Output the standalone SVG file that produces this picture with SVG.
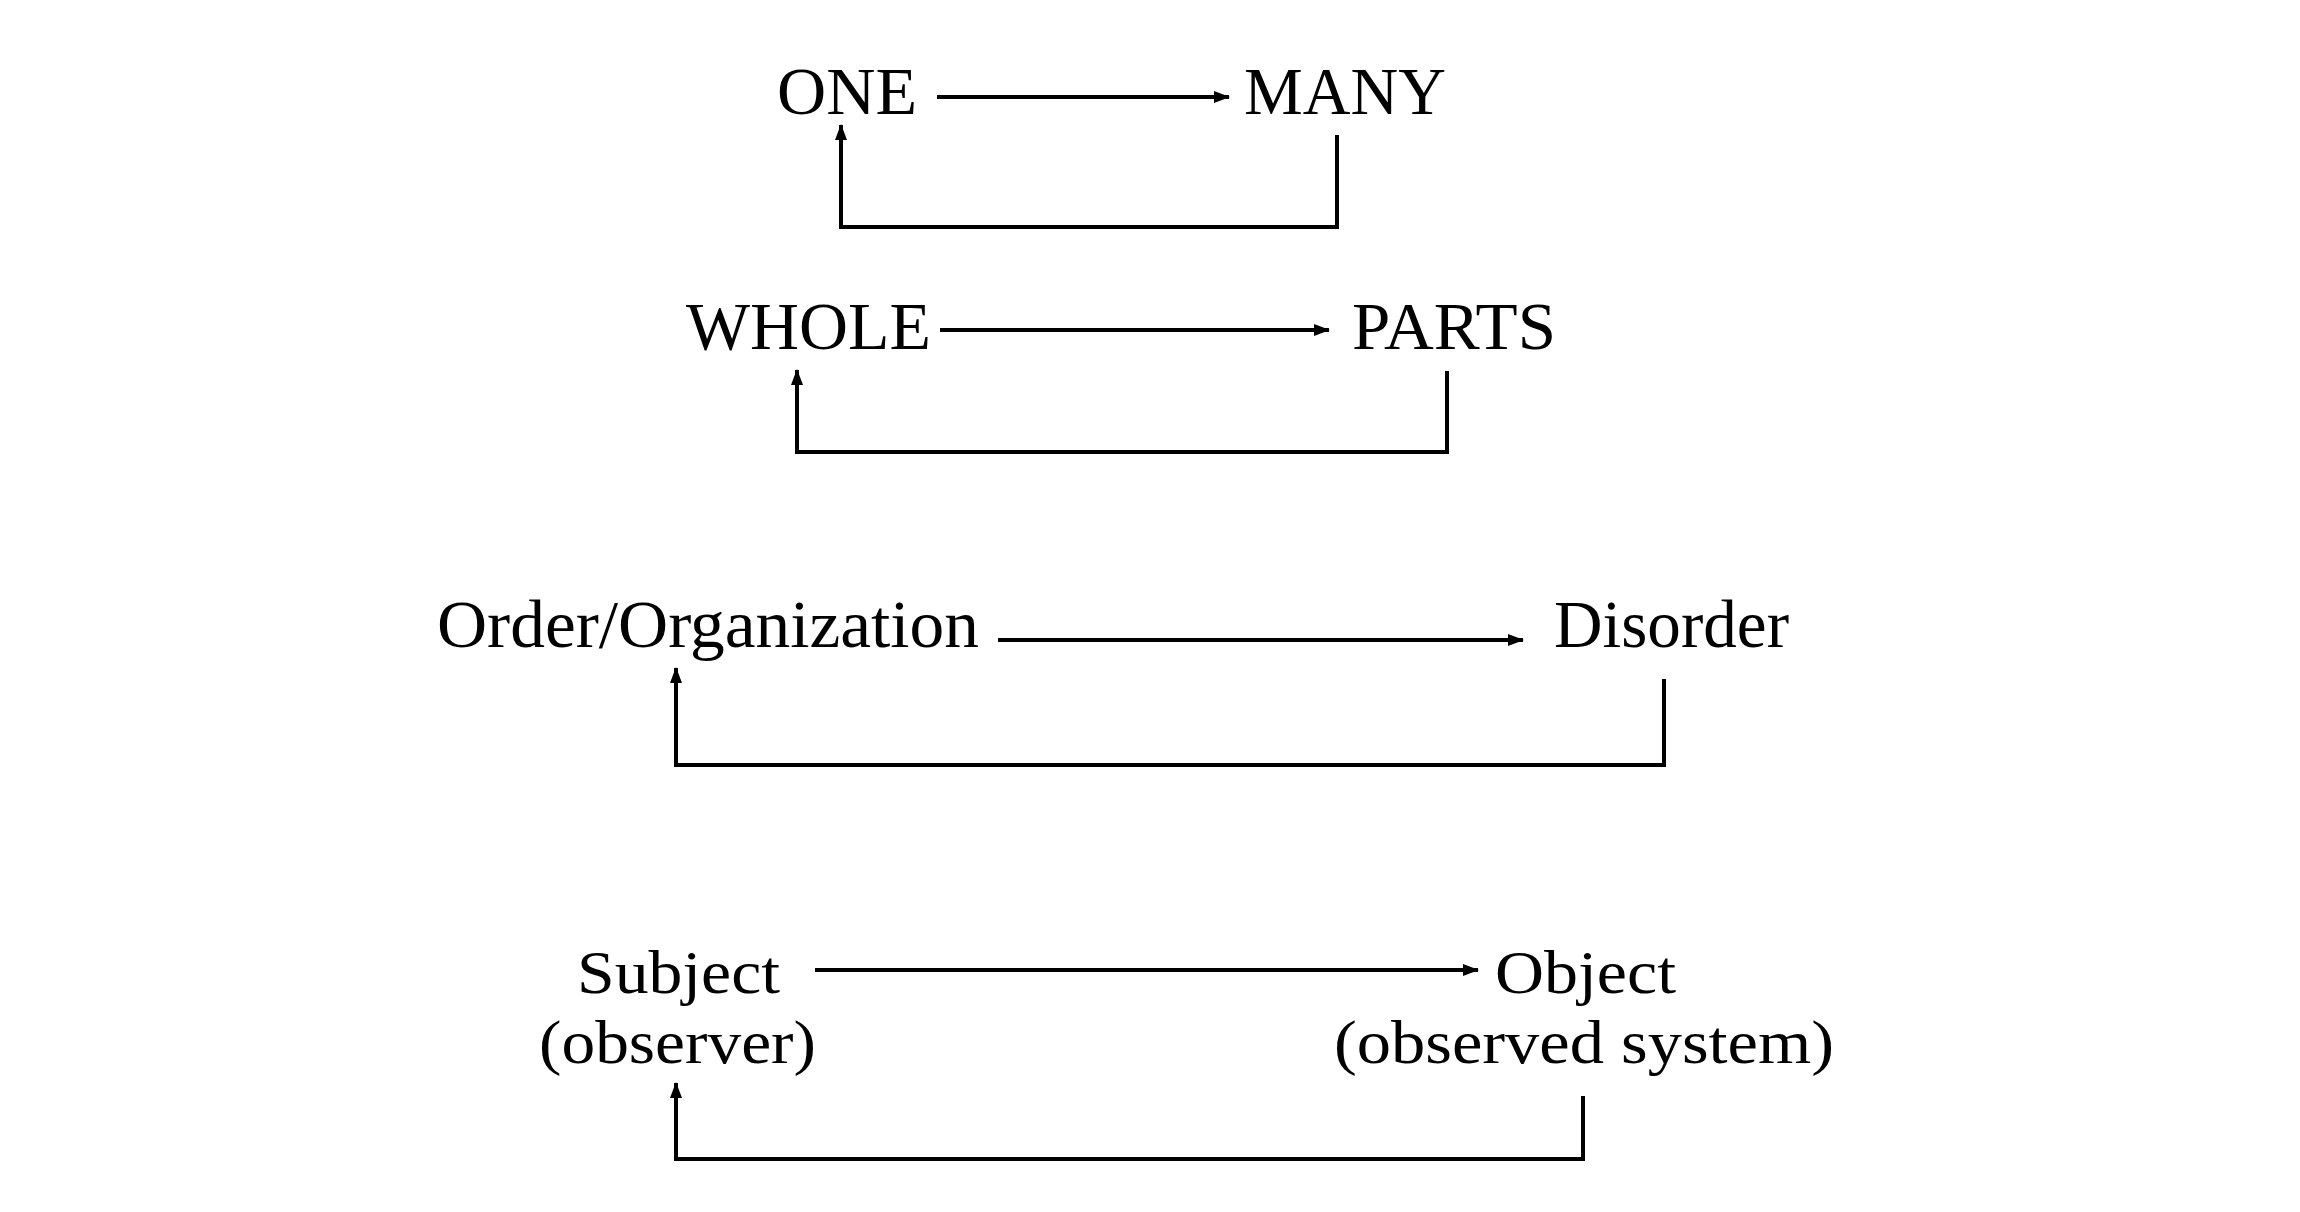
<svg xmlns="http://www.w3.org/2000/svg" width="2300" height="1212" viewBox="0 0 2300 1212">
<style>
text{font-family:"Liberation Serif","Times New Roman",serif;font-size:68px;fill:#000}
text.s{font-size:62px}
.c{fill:none;stroke:#000;stroke-width:4}
</style>
<defs>
<marker id="ah" viewBox="0 0 16 12" refX="15" refY="6" markerWidth="16" markerHeight="12" markerUnits="userSpaceOnUse" orient="auto">
<path d="M0,0 L16,6 L0,12 Z" fill="#000"/>
</marker>
</defs>
<rect width="2300" height="1212" fill="#fff"/>
<g id="one"><text x="777" y="114" textLength="140" lengthAdjust="spacingAndGlyphs">ONE</text></g>
<g id="many"><text x="1244" y="114" textLength="202" lengthAdjust="spacingAndGlyphs">MANY</text></g>
<g id="whole"><text x="686" y="349" textLength="245" lengthAdjust="spacingAndGlyphs">WHOLE</text></g>
<g id="parts"><text x="1352" y="349" textLength="204" lengthAdjust="spacingAndGlyphs">PARTS</text></g>
<g id="order"><text x="437" y="647" textLength="542" lengthAdjust="spacingAndGlyphs">Order/Organization</text></g>
<g id="disorder"><text x="1554" y="647" textLength="235" lengthAdjust="spacingAndGlyphs">Disorder</text></g>
<g id="subject"><text class="s" x="577" y="993" textLength="203" lengthAdjust="spacingAndGlyphs">Subject</text><text class="s" x="539" y="1063" textLength="277" lengthAdjust="spacingAndGlyphs">(observer)</text></g>
<g id="object"><text class="s" x="1495" y="993" textLength="181" lengthAdjust="spacingAndGlyphs">Object</text><text class="s" x="1334" y="1063" textLength="500" lengthAdjust="spacingAndGlyphs">(observed system)</text></g>
<g id="connectors">
<path class="c" d="M937,97 H1229" marker-end="url(#ah)"/>
<path class="c" d="M1337,135 V227 H841 V125" marker-end="url(#ah)"/>
<path class="c" d="M940,330 H1329" marker-end="url(#ah)"/>
<path class="c" d="M1447,371 V452 H797 V370" marker-end="url(#ah)"/>
<path class="c" d="M998,640 H1523" marker-end="url(#ah)"/>
<path class="c" d="M1664,679 V765 H676 V668" marker-end="url(#ah)"/>
<path class="c" d="M815,970 H1478" marker-end="url(#ah)"/>
<path class="c" d="M1583,1096 V1159 H676 V1083" marker-end="url(#ah)"/>
</g>
</svg>
